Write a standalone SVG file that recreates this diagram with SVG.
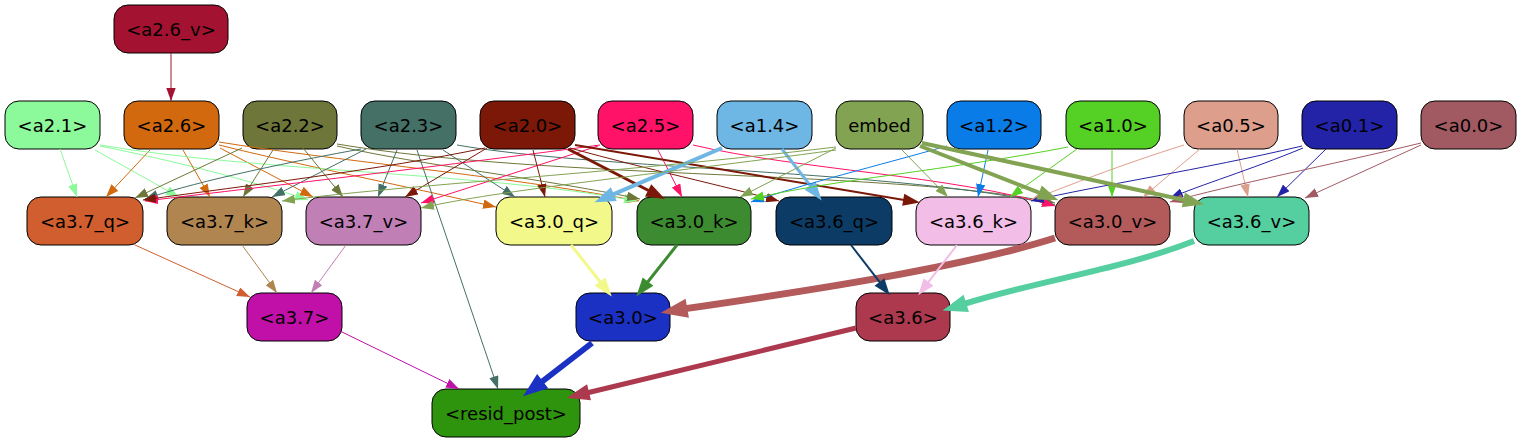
<svg xmlns="http://www.w3.org/2000/svg" width="1521" height="443" viewBox="0 0 1521 443">
<style>
.n rect{stroke:#000;stroke-width:1}
.n text{font-family:"DejaVu Sans","Liberation Sans",sans-serif;font-size:18px;text-anchor:middle;fill:#000}
#edges path{fill:none;stroke-width:1}
#edges polygon{stroke-linejoin:miter}
.w2{stroke-width:2px!important}.w3{stroke-width:3px!important}.w4{stroke-width:4px!important}.w5{stroke-width:5px!important}.w6{stroke-width:6px!important}.w7{stroke-width:7px!important}
.s-a26v{stroke:#a31230}.s-a21{stroke:#8cf99a}.s-a26{stroke:#d2690e}.s-a22{stroke:#6e7739}.s-a23{stroke:#447066}.s-a20{stroke:#7b1808}.s-a25{stroke:#ff1268}.s-a14{stroke:#6eb6e3}.s-emb{stroke:#82a352}.s-a12{stroke:#0a7ce8}.s-a10{stroke:#55d024}.s-a05{stroke:#dd9f8c}.s-a01{stroke:#2323a8}.s-a00{stroke:#a25a62}
.s-a37q{stroke:#d05e2e}.s-a37k{stroke:#b08550}.s-a37v{stroke:#c080b6}.s-a30q{stroke:#f2f98a}.s-a30k{stroke:#3d8b30}.s-a30v{stroke:#b35a5a}.s-a36q{stroke:#0c3c66}.s-a36k{stroke:#f2bde6}.s-a36v{stroke:#55cfa0}.s-a37{stroke:#c010a8}.s-a30{stroke:#1b31c4}.s-a36{stroke:#ac394e}
.f-a20{fill:#7b1808}.f-a14{fill:#6eb6e3}.f-emb{fill:#82a352}.f-a30q{fill:#f2f98a}.f-a30k{fill:#3d8b30}.f-a30v{fill:#b35a5a}.f-a36q{fill:#0c3c66}.f-a36k{fill:#f2bde6}.f-a36v{fill:#55cfa0}.f-a30{fill:#1b31c4}.f-a36{fill:#ac394e}
</style>
<defs>
<marker id="m-a26v" viewBox="0 0 13 9.4" refX="13" refY="4.7" markerWidth="13" markerHeight="9.4" markerUnits="userSpaceOnUse" orient="auto"><path d="M0,0L13,4.7L0,9.4z" fill="#a31230"/></marker>
<marker id="m-a21" viewBox="0 0 13 9.4" refX="13" refY="4.7" markerWidth="13" markerHeight="9.4" markerUnits="userSpaceOnUse" orient="auto"><path d="M0,0L13,4.7L0,9.4z" fill="#8cf99a"/></marker>
<marker id="m-a26" viewBox="0 0 13 9.4" refX="13" refY="4.7" markerWidth="13" markerHeight="9.4" markerUnits="userSpaceOnUse" orient="auto"><path d="M0,0L13,4.7L0,9.4z" fill="#d2690e"/></marker>
<marker id="m-a22" viewBox="0 0 13 9.4" refX="13" refY="4.7" markerWidth="13" markerHeight="9.4" markerUnits="userSpaceOnUse" orient="auto"><path d="M0,0L13,4.7L0,9.4z" fill="#6e7739"/></marker>
<marker id="m-a23" viewBox="0 0 13 9.4" refX="13" refY="4.7" markerWidth="13" markerHeight="9.4" markerUnits="userSpaceOnUse" orient="auto"><path d="M0,0L13,4.7L0,9.4z" fill="#447066"/></marker>
<marker id="m-a20" viewBox="0 0 13 9.4" refX="13" refY="4.7" markerWidth="13" markerHeight="9.4" markerUnits="userSpaceOnUse" orient="auto"><path d="M0,0L13,4.7L0,9.4z" fill="#7b1808"/></marker>
<marker id="m-a25" viewBox="0 0 13 9.4" refX="13" refY="4.7" markerWidth="13" markerHeight="9.4" markerUnits="userSpaceOnUse" orient="auto"><path d="M0,0L13,4.7L0,9.4z" fill="#ff1268"/></marker>
<marker id="m-emb" viewBox="0 0 13 9.4" refX="13" refY="4.7" markerWidth="13" markerHeight="9.4" markerUnits="userSpaceOnUse" orient="auto"><path d="M0,0L13,4.7L0,9.4z" fill="#82a352"/></marker>
<marker id="m-a12" viewBox="0 0 13 9.4" refX="13" refY="4.7" markerWidth="13" markerHeight="9.4" markerUnits="userSpaceOnUse" orient="auto"><path d="M0,0L13,4.7L0,9.4z" fill="#0a7ce8"/></marker>
<marker id="m-a10" viewBox="0 0 13 9.4" refX="13" refY="4.7" markerWidth="13" markerHeight="9.4" markerUnits="userSpaceOnUse" orient="auto"><path d="M0,0L13,4.7L0,9.4z" fill="#55d024"/></marker>
<marker id="m-a05" viewBox="0 0 13 9.4" refX="13" refY="4.7" markerWidth="13" markerHeight="9.4" markerUnits="userSpaceOnUse" orient="auto"><path d="M0,0L13,4.7L0,9.4z" fill="#dd9f8c"/></marker>
<marker id="m-a01" viewBox="0 0 13 9.4" refX="13" refY="4.7" markerWidth="13" markerHeight="9.4" markerUnits="userSpaceOnUse" orient="auto"><path d="M0,0L13,4.7L0,9.4z" fill="#2323a8"/></marker>
<marker id="m-a00" viewBox="0 0 13 9.4" refX="13" refY="4.7" markerWidth="13" markerHeight="9.4" markerUnits="userSpaceOnUse" orient="auto"><path d="M0,0L13,4.7L0,9.4z" fill="#a25a62"/></marker>
<marker id="m-a37q" viewBox="0 0 13 9.4" refX="13" refY="4.7" markerWidth="13" markerHeight="9.4" markerUnits="userSpaceOnUse" orient="auto"><path d="M0,0L13,4.7L0,9.4z" fill="#d05e2e"/></marker>
<marker id="m-a37k" viewBox="0 0 13 9.4" refX="13" refY="4.7" markerWidth="13" markerHeight="9.4" markerUnits="userSpaceOnUse" orient="auto"><path d="M0,0L13,4.7L0,9.4z" fill="#b08550"/></marker>
<marker id="m-a37v" viewBox="0 0 13 9.4" refX="13" refY="4.7" markerWidth="13" markerHeight="9.4" markerUnits="userSpaceOnUse" orient="auto"><path d="M0,0L13,4.7L0,9.4z" fill="#c080b6"/></marker>
<marker id="m-a37" viewBox="0 0 13 9.4" refX="13" refY="4.7" markerWidth="13" markerHeight="9.4" markerUnits="userSpaceOnUse" orient="auto"><path d="M0,0L13,4.7L0,9.4z" fill="#c010a8"/></marker>
</defs>
<rect width="1521" height="443" fill="#fff"/>

<g id="nodes">
<g id="n-a2.6_v" class="n"><rect x="114" y="5" width="114" height="48" rx="14" fill="#a31230"/><text x="171" y="35.5">&lt;a2.6_v&gt;</text></g>
<g id="n-a2.1" class="n"><rect x="5" y="101" width="95" height="48" rx="14" fill="#8cf99a"/><text x="52.5" y="131.5">&lt;a2.1&gt;</text></g>
<g id="n-a2.6" class="n"><rect x="124" y="101" width="95" height="48" rx="14" fill="#d2690e"/><text x="171.5" y="131.5">&lt;a2.6&gt;</text></g>
<g id="n-a2.2" class="n"><rect x="243" y="101" width="94" height="48" rx="14" fill="#6e7739"/><text x="290" y="131.5">&lt;a2.2&gt;</text></g>
<g id="n-a2.3" class="n"><rect x="361" y="101" width="95" height="48" rx="14" fill="#447066"/><text x="408.5" y="131.5">&lt;a2.3&gt;</text></g>
<g id="n-a2.0" class="n"><rect x="480" y="101" width="95" height="48" rx="14" fill="#7b1808"/><text x="527.5" y="131.5">&lt;a2.0&gt;</text></g>
<g id="n-a2.5" class="n"><rect x="598" y="101" width="95" height="48" rx="14" fill="#ff1268"/><text x="645.5" y="131.5">&lt;a2.5&gt;</text></g>
<g id="n-a1.4" class="n"><rect x="717" y="101" width="95" height="48" rx="14" fill="#6eb6e3"/><text x="764.5" y="131.5">&lt;a1.4&gt;</text></g>
<g id="n-embed" class="n"><rect x="836" y="101" width="87" height="48" rx="14" fill="#82a352"/><text x="879.5" y="131.5">embed</text></g>
<g id="n-a1.2" class="n"><rect x="947" y="101" width="94" height="48" rx="14" fill="#0a7ce8"/><text x="994" y="131.5">&lt;a1.2&gt;</text></g>
<g id="n-a1.0" class="n"><rect x="1066" y="101" width="94" height="48" rx="14" fill="#55d024"/><text x="1113" y="131.5">&lt;a1.0&gt;</text></g>
<g id="n-a0.5" class="n"><rect x="1184" y="101" width="94" height="48" rx="14" fill="#dd9f8c"/><text x="1231" y="131.5">&lt;a0.5&gt;</text></g>
<g id="n-a0.1" class="n"><rect x="1302" y="101" width="95" height="48" rx="14" fill="#2323a8"/><text x="1349.5" y="131.5">&lt;a0.1&gt;</text></g>
<g id="n-a0.0" class="n"><rect x="1421" y="101" width="95" height="48" rx="14" fill="#a25a62"/><text x="1468.5" y="131.5">&lt;a0.0&gt;</text></g>
<g id="n-a3.7_q" class="n"><rect x="27" y="197" width="116" height="48" rx="14" fill="#d05e2e"/><text x="85" y="227.5">&lt;a3.7_q&gt;</text></g>
<g id="n-a3.7_k" class="n"><rect x="167" y="197" width="115" height="48" rx="14" fill="#b08550"/><text x="224.5" y="227.5">&lt;a3.7_k&gt;</text></g>
<g id="n-a3.7_v" class="n"><rect x="306" y="197" width="115" height="48" rx="14" fill="#c080b6"/><text x="363.5" y="227.5">&lt;a3.7_v&gt;</text></g>
<g id="n-a3.0_q" class="n"><rect x="496" y="197" width="116" height="48" rx="14" fill="#f2f98a"/><text x="554" y="227.5">&lt;a3.0_q&gt;</text></g>
<g id="n-a3.0_k" class="n"><rect x="637" y="197" width="114" height="48" rx="14" fill="#3d8b30"/><text x="694" y="227.5">&lt;a3.0_k&gt;</text></g>
<g id="n-a3.6_q" class="n"><rect x="776" y="197" width="116" height="48" rx="14" fill="#0c3c66"/><text x="834" y="227.5">&lt;a3.6_q&gt;</text></g>
<g id="n-a3.6_k" class="n"><rect x="916" y="197" width="115" height="48" rx="14" fill="#f2bde6"/><text x="973.5" y="227.5">&lt;a3.6_k&gt;</text></g>
<g id="n-a3.0_v" class="n"><rect x="1055" y="197" width="115" height="48" rx="14" fill="#b35a5a"/><text x="1112.5" y="227.5">&lt;a3.0_v&gt;</text></g>
<g id="n-a3.6_v" class="n"><rect x="1194" y="197" width="115" height="48" rx="14" fill="#55cfa0"/><text x="1251.5" y="227.5">&lt;a3.6_v&gt;</text></g>
<g id="n-a3.7" class="n"><rect x="247" y="293" width="95" height="48" rx="14" fill="#c010a8"/><text x="294.5" y="323.5">&lt;a3.7&gt;</text></g>
<g id="n-a3.0" class="n"><rect x="576" y="293" width="94" height="48" rx="14" fill="#1b31c4"/><text x="623" y="323.5">&lt;a3.0&gt;</text></g>
<g id="n-a3.6" class="n"><rect x="856" y="293" width="94" height="48" rx="14" fill="#ac394e"/><text x="903" y="323.5">&lt;a3.6&gt;</text></g>
<g id="n-resid_post" class="n"><rect x="432" y="389" width="148" height="48" rx="14" fill="#2f940d"/><text x="506" y="419.5">&lt;resid_post&gt;</text></g>
</g>

<g id="edges">
<path class="s-a26v" d="M171,53L171,101" marker-end="url(#m-a26v)"/>

<path class="s-a21" d="M60,149L77,197" marker-end="url(#m-a21)"/>
<path class="s-a21" d="M95,150L179,197" marker-end="url(#m-a21)"/>
<path class="s-a21" d="M100,146C170,160 250,180 308,200" marker-end="url(#m-a21)"/>

<path class="s-a26" d="M150,150L106,197" marker-end="url(#m-a26)"/>
<path class="s-a26" d="M183,150L210,197" marker-end="url(#m-a26)"/>
<path class="s-a26" d="M220,148L313,197" marker-end="url(#m-a26)"/>
<path class="s-a26" d="M219,145C300,165 400,185 496,207" marker-end="url(#m-a26)"/>
<path class="s-a26" d="M219,142C330,160 500,175 639,201" marker-end="url(#m-a26)"/>

<path class="s-a21" d="M100,145C260,172 480,172 637,201" marker-end="url(#m-a21)"/>

<path class="s-a22" d="M242,148L135,198" marker-end="url(#m-a22)"/>
<path class="s-a22" d="M273,150L243,197" marker-end="url(#m-a22)"/>
<path class="s-a22" d="M303,148L343,197" marker-end="url(#m-a22)"/>
<path class="s-a22" d="M337,146C420,165 540,178 640,199" marker-end="url(#m-a22)"/>
<path class="s-a22" d="M337,144C550,180 900,170 1055,203" marker-end="url(#m-a22)"/>

<path class="s-a23" d="M361,149C300,160 200,180 145,199" marker-end="url(#m-a23)"/>
<path class="s-a23" d="M366,149L272,197" marker-end="url(#m-a23)"/>
<path class="s-a23" d="M397,150L378,197" marker-end="url(#m-a23)"/>
<path class="s-a23" d="M417,150L498,389" marker-end="url(#m-a23)"/>
<path class="s-a23" d="M443,150L515,197" marker-end="url(#m-a23)"/>
<path class="s-a23" d="M457,145C600,170 900,170 1055,205" marker-end="url(#m-a23)"/>

<path class="s-a25" d="M600,145C450,165 280,185 145,201" marker-end="url(#m-a25)"/>
<path class="s-a25" d="M598,146L421,203" marker-end="url(#m-a25)"/>
<path class="s-a25" d="M658,150L682,197" marker-end="url(#m-a25)"/>
<path class="s-a25" d="M693,145C800,170 950,175 1055,206" marker-end="url(#m-a25)"/>

<path class="s-a20" d="M485,148C380,170 250,185 143,200" marker-end="url(#m-a20)"/>
<path class="s-a20" d="M487,148L405,197" marker-end="url(#m-a20)"/>
<path class="s-a20" d="M533,150L545,197" marker-end="url(#m-a20)"/>
<path class="s-a20" d="M570,148C650,170 720,185 779,201" marker-end="url(#m-a20)"/>
<path class="s-a20 w3" d="M568,149L649.5,191"/>
<polygon class="s-a20 f-a20 w3" points="661,197 647.3,195.2 651.6,186.9"/>
<path class="s-a20 w2" d="M575,145L904.2,199.9"/>
<polygon class="s-a20 f-a20 w2" points="917,202 903.4,204.5 905,195.2"/>

<path class="s-a14 w4" d="M722,148L612,194.9"/>
<polygon class="s-a14 f-a14 w4" points="600,200 613.8,199.2 610.1,190.6"/>
<path class="s-a14 w3" d="M782,149L811.1,186.7"/>
<polygon class="s-a14 f-a14 w3" points="819,197 807.3,189.6 814.8,183.8"/>

<path class="s-emb" d="M836,147C600,175 400,185 282,201" marker-end="url(#m-emb)"/>
<path class="s-emb" d="M836,150C650,175 500,190 421,208" marker-end="url(#m-emb)"/>
<path class="s-emb" d="M836,148L740,197" marker-end="url(#m-emb)"/>
<path class="s-emb" d="M902,150L948,197" marker-end="url(#m-emb)"/>

<path class="s-a12" d="M947,146C880,165 800,185 751,202" marker-end="url(#m-a12)"/>
<path class="s-a12" d="M988,150L978,197" marker-end="url(#m-a12)"/>
<path class="s-a10" d="M1068,147C950,170 830,180 751,199" marker-end="url(#m-a10)"/>
<path class="s-a10" d="M1077,149L1010,197" marker-end="url(#m-a10)"/>
<path class="s-a10" d="M1112,149L1112,197" marker-end="url(#m-a10)"/>
<path class="s-a05" d="M1184,145C1120,165 1070,185 1031,200" marker-end="url(#m-a05)"/>
<path class="s-a05" d="M1200,149L1143,197" marker-end="url(#m-a05)"/>
<path class="s-a05" d="M1237,149L1248,197" marker-end="url(#m-a05)"/>
<path class="s-a01" d="M1302,146C1200,170 1100,185 1031,201" marker-end="url(#m-a01)"/>
<path class="s-a01" d="M1303,148C1250,170 1200,185 1170,198" marker-end="url(#m-a01)"/>
<path class="s-a01" d="M1326,149L1277,197" marker-end="url(#m-a01)"/>
<path class="s-a00" d="M1421,143C1330,165 1230,185 1170,202" marker-end="url(#m-a00)"/>
<path class="s-a00" d="M1421,145L1305,198" marker-end="url(#m-a00)"/>

<path class="s-emb w4" d="M920,146L1040.9,193.3"/>
<polygon class="s-emb f-emb w4" points="1053,198 1039.2,197.6 1042.6,188.9"/>
<path class="s-emb w4" d="M922,143L1185.3,200.2"/>
<polygon class="s-emb f-emb w4" points="1198,203 1184.3,204.8 1186.3,195.7"/>

<path class="s-a37q" d="M135,245L250,297" marker-end="url(#m-a37q)"/>
<path class="s-a37k" d="M242,245L277,293" marker-end="url(#m-a37k)"/>
<path class="s-a37v" d="M346,245L311,293" marker-end="url(#m-a37v)"/>

<path class="s-a30q w3" d="M571,245L600.9,282.8"/>
<polygon class="s-a30q f-a30q w3" points="609,293 597.2,285.7 604.6,279.9"/>
<path class="s-a30k w3" d="M677,245L647.1,282.8"/>
<polygon class="s-a30k f-a30k w3" points="639,293 650.8,285.7 643.4,279.9"/>
<path class="s-a30v w7" d="M1055,238C960,268 800,292 683.8,308.9"/>
<polygon class="s-a30v f-a30v w7" points="671,311 684.6,313.5 683,304.3"/>

<path class="s-a36q w2" d="M851,245L880.1,282.7"/>
<polygon class="s-a36q f-a36q w2" points="888,293 876.3,285.6 883.8,279.8"/>
<path class="s-a36k w2" d="M957,245L927.9,282.7"/>
<polygon class="s-a36k f-a36k w2" points="920,293 931.7,285.6 924.2,279.8"/>
<path class="s-a36v w6" d="M1194,241C1120,270 1040,280 963.4,304.2"/>
<polygon class="s-a36v f-a36v w6" points="951,308 964.8,308.7 962,299.7"/>

<path class="s-a37" d="M342,332L459,389" marker-end="url(#m-a37)"/>
<path class="s-a30 w6" d="M592,343L540.3,383"/>
<polygon class="s-a30 f-a30 w6" points="530,391 543.2,386.8 537.4,379.3"/>
<path class="s-a36 w5" d="M856,328L586.6,393"/>
<polygon class="s-a36 f-a36 w5" points="574,396 587.7,397.5 585.5,388.4"/>
</g>
</svg>
